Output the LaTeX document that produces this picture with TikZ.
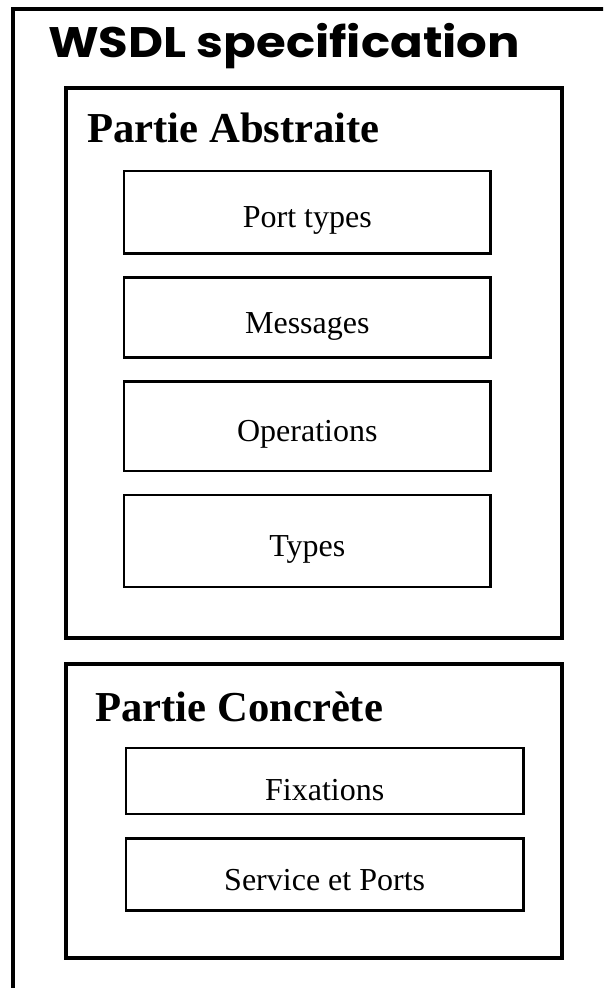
\documentclass[tikz,border=0pt]{standalone}
\usepackage{fontspec}
\setmainfont{Liberation Serif}
\newfontfamily\wsdlfont{Poppins}
\usetikzlibrary{positioning}

\begin{document}
\begin{tikzpicture}[x=0.75pt,y=-0.75pt,
    partbox/.style={draw,line width=3.5pt,outer sep=0pt,minimum width=372pt,anchor=north west},
    itembox/.style={draw,line width=1.8pt,outer sep=0pt,text height=23pt,text depth=0pt,
        font=\fontsize{24}{28}\selectfont},
    parttitle/.style={anchor=base west,inner sep=0pt,font=\fontsize{32}{38}\selectfont\bfseries}]
    \useasboundingbox (0,0) rectangle (603,988);
    \clip (0,0) rectangle (603,988);
    % cadre general, coupe a droite et en bas
    \draw[line width=3pt] (13,9) rectangle (640,1020);
    \node[anchor=base west,inner sep=0pt,font=\wsdlfont\fontsize{32}{38}\selectfont\bfseries]
        (wsdl) at (48,58) {\scalebox{1.13}[1]{WSDL specification}};
    % partie abstraite
    \node[partbox,minimum height=412.5pt] (abstract) at (66,88) {};
    \node[parttitle] (abstitle) at (87,143) {Partie Abstraite};
    \node[itembox,minimum width=275pt,minimum height=62pt,anchor=north west]
        (porttypes) at (124,171) {Port types};
    \node[itembox,minimum width=275pt,minimum height=60pt,below=18pt of porttypes]
        (messages) {Messages};
    \node[itembox,minimum width=275pt,minimum height=67pt,below=18pt of messages]
        (operations) {Operations};
    \node[itembox,minimum width=275pt,minimum height=69pt,below=18pt of operations]
        (types) {Types};
    % partie concrete
    \node[partbox,minimum height=220.5pt] (concrete) at (66,664) {};
    \node[parttitle] (contitle) at (95,721) {Partie Concrète};
    \node[itembox,minimum width=298pt,minimum height=49.5pt,anchor=north west,text height=29pt]
        (fixations) at (126,748) {Fixations};
    \node[itembox,minimum width=298pt,minimum height=54pt,below=18.5pt of fixations]
        (service) {Service et Ports};
\end{tikzpicture}
\end{document}
